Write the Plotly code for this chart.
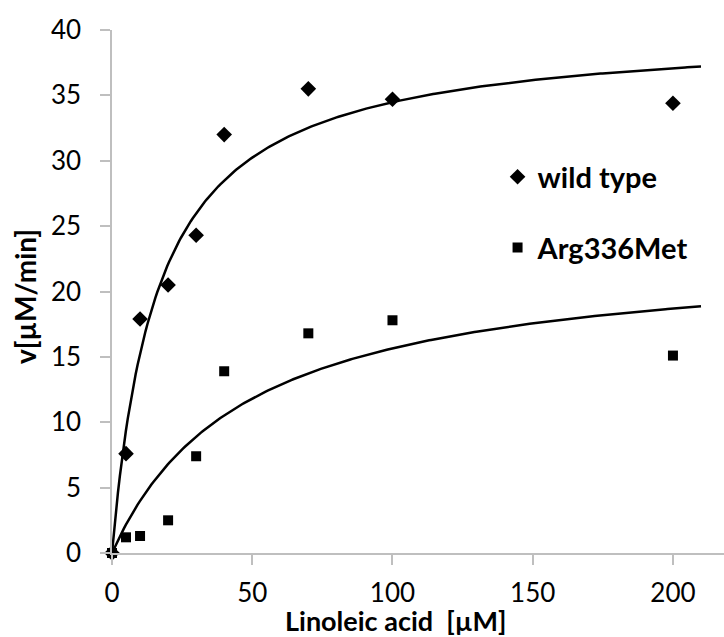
import numpy as np
import plotly.graph_objects as go

# Measured initial rates vs. linoleic acid concentration
conc = [0, 5, 10, 20, 30, 40, 70, 100, 200]
v_wild = [0, 7.6, 17.9, 20.5, 24.3, 32.0, 35.5, 34.7, 34.4]
v_mut = [0, 1.2, 1.3, 2.5, 7.4, 13.9, 16.8, 17.8, 15.1]

# Michaelis-Menten fit parameters (Vmax, Km)
vmax_wild, km_wild = 40.1, 16.3
vmax_mut, km_mut = 23.2, 48.2

x_fit = np.linspace(0, 210, 300)

def mm(x, vmax, km):
    return vmax * x / (km + x)

font_family = "Lato, 'Open Sans', sans-serif"
axis_color = "#bfbfbf"

fig = go.Figure()
fig.add_trace(go.Scatter(
    x=x_fit, y=mm(x_fit, vmax_wild, km_wild), mode="lines",
    line=dict(color="black", width=2.5), showlegend=False, hoverinfo="skip"))
fig.add_trace(go.Scatter(
    x=x_fit, y=mm(x_fit, vmax_mut, km_mut), mode="lines",
    line=dict(color="black", width=2.5), showlegend=False, hoverinfo="skip"))
fig.add_trace(go.Scatter(
    x=conc, y=v_wild, mode="markers", name="<b>wild type</b>", legendgroup="a",
    marker=dict(symbol="diamond", size=12, color="black"), cliponaxis=False))
fig.add_trace(go.Scatter(
    x=conc, y=v_mut, mode="markers", name="<b>Arg336Met</b>", legendgroup="b",
    marker=dict(symbol="square", size=10, color="black"), cliponaxis=False))

fig.update_layout(
    width=724, height=637,
    margin=dict(l=112, r=0, t=30, b=84),
    plot_bgcolor="white", paper_bgcolor="white",
    font=dict(family=font_family, color="black"),
    showlegend=True,
    legend=dict(
        x=0.63, y=0.768, xanchor="left", yanchor="top",
        font=dict(size=29, family=font_family, color="black"),
        tracegroupgap=30, bgcolor="rgba(0,0,0,0)", itemsizing="trace"),
    xaxis=dict(
        range=[0, 218.2], tickvals=[0, 50, 100, 150, 200],
        showline=True, linecolor=axis_color, linewidth=1.5,
        ticks="outside", ticklen=10, tickcolor=axis_color, tickwidth=1.5,
        showgrid=False, zeroline=False, ticklabelstandoff=6,
        tickfont=dict(size=26, family=font_family, color="black")),
    yaxis=dict(
        range=[0, 40], tickvals=[0, 5, 10, 15, 20, 25, 30, 35, 40],
        showline=True, linecolor=axis_color, linewidth=1.5,
        ticks="outside", ticklen=10, tickcolor=axis_color, tickwidth=1.5,
        showgrid=False, zeroline=False, ticklabelstandoff=14,
        tickfont=dict(size=26, family=font_family, color="black")),
    annotations=[
        dict(text="<b>Linoleic acid  [µM]</b>", xref="paper", yref="paper",
             x=(395 - 112) / 612, y=-(620 - 553) / 523, xanchor="center",
             yanchor="middle", showarrow=False,
             font=dict(size=27, family=font_family, color="black")),
        dict(text="<b>v[µM/min]</b>", xref="paper", yref="paper",
             x=-(112 - 25) / 612, y=(553 - 297) / 523, xanchor="center",
             yanchor="middle", textangle=-90, showarrow=False,
             font=dict(size=28, family=font_family, color="black")),
    ],
)

fig.write_html("out.html")
